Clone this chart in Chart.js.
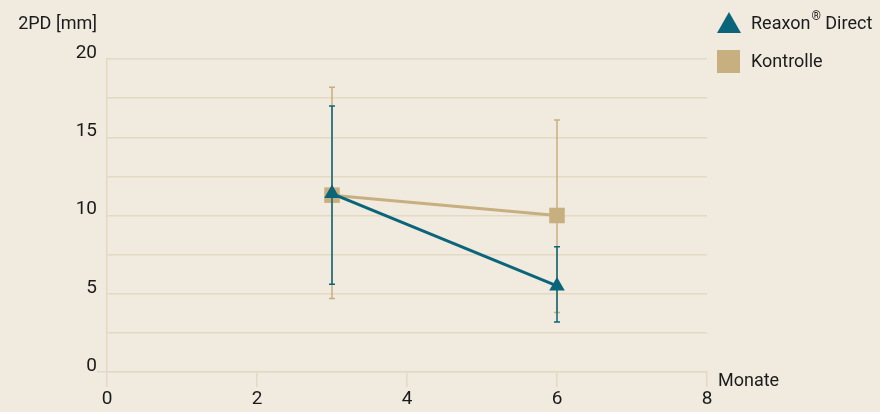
<!DOCTYPE html>
<html>
<head>
<meta charset="utf-8">
<script src="https://cdn.jsdelivr.net/npm/chart.js@4/dist/chart.umd.min.js"></script>
<style>
  html, body { margin: 0; padding: 0; background: #f0eadf; }
  #wrap { width: 880px; height: 412px; position: relative; }
</style>
</head>
<body>
<div id="wrap"><canvas id="chart"></canvas></div>
<script>
// Daten
const monate = [3, 6];

const reaxonWerte = [11.4, 5.5];
const reaxonOben = [17.0, 8.0];
const reaxonUnten = [5.6, 3.2];

const kontrolleWerte = [11.3, 10.0];
const kontrolleOben = [18.2, 16.1];
const kontrolleUnten = [4.7, 3.8];

const xTicks = [0, 2, 4, 6, 8];
const yLabels = [0, 5, 10, 15, 20];

const TEAL = "#0b657a";
const TAN = "#c8af7f";
const GRID = "#e4d9c4";
const TEXT = "#1b1b1b";
const FONT = "Roboto, 'DejaVu Sans', sans-serif";

const fehler = [
  { oben: reaxonOben, unten: reaxonUnten, farbe: TEAL },
  { oben: kontrolleOben, unten: kontrolleUnten, farbe: TAN }
];

// Fehlerbalken je Datensatz, direkt vor dem Datensatz gezeichnet
const errorBars = {
  id: "errorBars",
  beforeDatasetDraw(chart, args) {
    const f = fehler[args.index];
    if (!f) return;
    const { ctx, scales } = chart;
    ctx.save();
    ctx.strokeStyle = f.farbe;
    ctx.lineWidth = 1.5;
    monate.forEach((m, i) => {
      const x = scales.x.getPixelForValue(m);
      const y1 = scales.y.getPixelForValue(f.oben[i]);
      const y2 = scales.y.getPixelForValue(f.unten[i]);
      ctx.beginPath();
      ctx.moveTo(x, y1);
      ctx.lineTo(x, y2);
      ctx.moveTo(x - 3, y1);
      ctx.lineTo(x + 3, y1);
      ctx.moveTo(x - 3, y2);
      ctx.lineTo(x + 3, y2);
      ctx.stroke();
    });
    ctx.restore();
  }
};

// Achsentitel und Legende
const extras = {
  id: "extras",
  afterDraw(chart) {
    const { ctx, chartArea, scales } = chart;
    ctx.save();
    ctx.fillStyle = TEXT;
    ctx.font = "18px " + FONT;
    ctx.textBaseline = "middle";

    // Y-Titel
    ctx.textAlign = "right";
    ctx.fillText("2PD [mm]", 97, 24);

    // X-Titel
    ctx.textAlign = "left";
    ctx.fillText("Monate", chartArea.right + 11, scales.y.getPixelForValue(0) + 9);

    // Legende: Dreieck
    ctx.fillStyle = TEAL;
    ctx.beginPath();
    ctx.moveTo(729, 12);
    ctx.lineTo(741, 33);
    ctx.lineTo(717, 33);
    ctx.closePath();
    ctx.fill();

    // Legende: Quadrat
    ctx.fillStyle = TAN;
    ctx.fillRect(717, 50, 23, 23);

    ctx.fillStyle = TEXT;
    ctx.font = "18px " + FONT;
    ctx.fillText("Reaxon", 751, 24);
    let w = ctx.measureText("Reaxon").width;
    ctx.font = "12px " + FONT;
    ctx.fillText("®", 751 + w + 1, 17);
    const w2 = ctx.measureText("®").width;
    ctx.font = "18px " + FONT;
    ctx.fillText(" Direct", 751 + w + w2 + 1, 24);

    ctx.fillText("Kontrolle", 751, 62);
    ctx.restore();
  }
};

new Chart(document.getElementById("chart"), {
  type: "line",
  data: {
    datasets: [
      {
        label: "Reaxon® Direct",
        data: monate.map((m, i) => ({ x: m, y: reaxonWerte[i] })),
        borderColor: TEAL,
        backgroundColor: TEAL,
        borderWidth: 3,
        pointStyle: "triangle",
        pointRadius: 9,
        pointHoverRadius: 9,
        pointBorderWidth: 0,
        order: 1
      },
      {
        label: "Kontrolle",
        data: monate.map((m, i) => ({ x: m, y: kontrolleWerte[i] })),
        borderColor: TAN,
        backgroundColor: TAN,
        borderWidth: 3,
        pointStyle: "rect",
        pointRadius: 11,
        pointHoverRadius: 11,
        pointBorderWidth: 0,
        order: 2
      }
    ]
  },
  options: {
    responsive: true,
    maintainAspectRatio: false,
    animation: false,
    layout: {
      padding: { top: 59, right: 173, left: 0, bottom: 0 }
    },
    plugins: {
      legend: { display: false },
      tooltip: { enabled: false }
    },
    scales: {
      x: {
        type: "linear",
        min: 0,
        max: 8,
        afterBuildTicks: (scale) => {
          scale.ticks = xTicks.map(v => ({ value: v }));
        },
        afterFit: (scale) => { scale.height = 40; },
        grid: {
          drawOnChartArea: false,
          color: GRID,
          tickLength: 15,
          lineWidth: 1.5
        },
        border: { display: true, color: GRID, width: 1.5 },
        ticks: {
          color: TEXT,
          padding: 1,
          font: { size: 19, family: FONT }
        }
      },
      y: {
        min: 0,
        max: 20,
        afterFit: (scale) => { scale.width = 107; },
        ticks: {
          stepSize: 2.5,
          color: TEXT,
          padding: 0,
          labelOffset: -6,
          font: { size: 19, family: FONT },
          callback: (v) => yLabels.includes(v) ? String(v) : ""
        },
        grid: {
          color: GRID,
          lineWidth: 1.5,
          tickLength: 10,
          tickColor: (ctx) => ctx.tick && ctx.tick.value === 0 ? GRID : "rgba(0,0,0,0)"
        },
        border: { display: true, color: GRID, width: 1.5 }
      }
    }
  },
  plugins: [errorBars, extras]
});
</script>
</body>
</html>
